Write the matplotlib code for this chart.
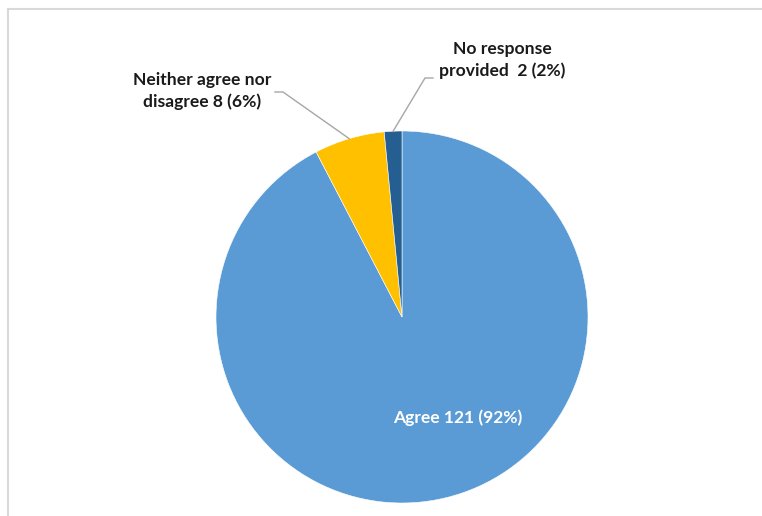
import numpy as np
import matplotlib.pyplot as plt

plt.rcParams['font.family'] = ['Lato', 'DejaVu Sans']

# survey responses
labels = ['Agree', 'Neither agree nor\ndisagree', 'No response\nprovided ']
counts = [121, 8, 2]
colors = ['#5B9BD5', '#FFC000', '#255E91']

total = sum(counts)
pcts = [round(100 * c / total) for c in counts]

W, H = 762, 516
fig = plt.figure(figsize=(W / 100, H / 100), dpi=100)
ax = fig.add_axes([0, 0, 1, 1])

cx, cy, r = 402, H - 317, 186
wedges, _ = ax.pie(counts, colors=colors, startangle=90, counterclock=False,
                   center=(cx, cy), radius=r, frame=True,
                   wedgeprops=dict(edgecolor='white', linewidth=0.4))
ax.set_xlim(0, W)
ax.set_ylim(0, H)
ax.set_aspect('equal')
ax.axis('off')


def edge_point(w):
    mid = np.deg2rad((w.theta1 + w.theta2) / 2)
    return cx + r * np.cos(mid), cy + r * np.sin(mid)


txt = dict(fontsize=12.6, fontweight='bold', color='#1a1a1a', ha='center', va='center',
           linespacing=1.4)

# Agree label inside the slice
ax.text(458, H - 418, f'{labels[0]} {counts[0]} ({pcts[0]}%)', fontsize=12.6,
        fontweight='bold', color='white', ha='center', va='center')

# Neither label with leader
ax.text(202, H - 91, f'{labels[1]} {counts[1]} ({pcts[1]}%)', **txt)
px, py = edge_point(wedges[1])
ax.plot([275, 283, px], [H - 92, H - 92, py], color='#a6a6a6', lw=1)

# No response label with leader
ax.text(502, H - 60, f'{labels[2]} {counts[2]} ({pcts[2]}%)', **txt)
px, py = edge_point(wedges[2])
ax.plot([433, 425, px], [H - 78, H - 78, py], color='#a6a6a6', lw=1)

# chart border (top and left edges)
ax.plot([7.5, W], [H - 9, H - 9], color='#d9d9d9', lw=1.5, clip_on=False)
ax.plot([7.5, 7.5], [H - 9, 0], color='#d9d9d9', lw=1.5, clip_on=False)

fig.savefig('out.png', dpi=100, facecolor='white')
